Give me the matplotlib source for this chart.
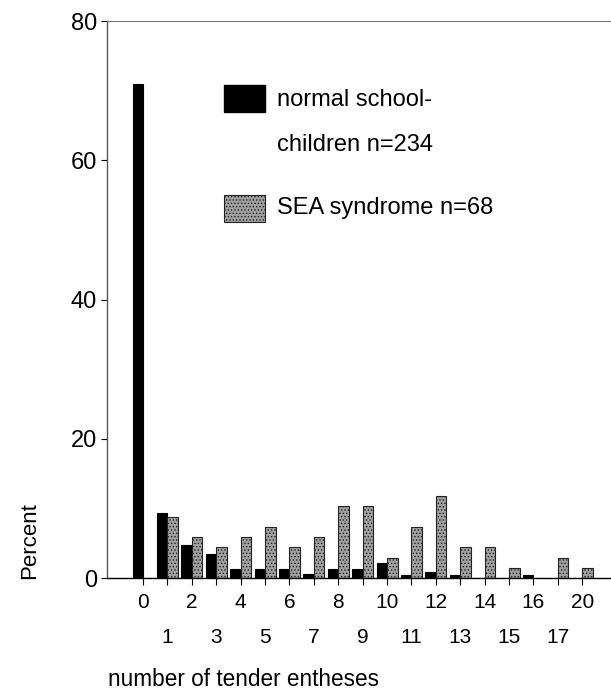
import numpy as np
import matplotlib.pyplot as plt
from matplotlib.patches import Rectangle

plt.rcParams['font.family'] = ['Liberation Sans', 'DejaVu Sans']
plt.rcParams['hatch.linewidth'] = 0.6

# number of tender entheses (categories)
categories = ['0', '1', '2', '3', '4', '5', '6', '7', '8', '9', '10',
              '11', '12', '13', '14', '15', '16', '17', '20']
# percent of normal schoolchildren (n=234)
normal_pct = [70.9, 9.4, 4.7, 3.4, 1.3, 1.3, 1.3, 0.6, 1.3, 1.3, 2.1,
              0.4, 0.9, 0.4, 0.0, 0.0, 0.4, 0.0, 0.0]
# percent of SEA syndrome (n=68)
sea_pct = [0.0, 8.8, 5.9, 4.4, 5.9, 7.4, 4.4, 5.9, 10.3, 10.3, 2.9,
           7.4, 11.8, 4.4, 4.4, 1.5, 0.0, 2.9, 1.5]

x = np.arange(len(categories))
w = 0.43

fig = plt.figure(figsize=(6.11, 6.91), dpi=100)
ax = fig.add_axes([0.175, 0.1635, 0.825, 0.806])

ax.bar(x - w / 2, normal_pct, width=w, color='black', edgecolor='black', linewidth=0.8)
ax.bar(x + w / 2, sea_pct, width=w, color='#a0a0a0', edgecolor='#222222',
       linewidth=0.8, hatch='.....')

ax.set_xlim(-1.48, 19.18)
ax.set_ylim(0, 80)
ax.set_yticks([0, 20, 40, 60, 80])
ax.tick_params(axis='y', labelsize=17, length=4, width=0.8, pad=3)

# even categories on first row, odd on second row
ax.set_xticks(x[::2])
ax.set_xticklabels(categories[::2])
ax.set_xticks(x[1::2], minor=True)
ax.set_xticklabels(categories[1::2], minor=True)
ax.tick_params(axis='x', which='major', labelsize=15, length=5, width=0.8, pad=6)
ax.tick_params(axis='x', which='minor', labelsize=15, length=5, width=0.8, pad=31)

ax.spines['right'].set_visible(False)
ax.spines['top'].set_color('#777777')
ax.spines['top'].set_linestyle((0, (4, 1)))
ax.spines['top'].set_linewidth(0.8)
ax.spines['left'].set_color('#555555')
ax.spines['left'].set_linewidth(1.0)
ax.spines['bottom'].set_linewidth(1.0)

# legend drawn in axes coordinates
ax.add_patch(Rectangle((0.232, 0.837), 0.081, 0.048, transform=ax.transAxes,
                       facecolor='black', edgecolor='black', clip_on=False))
ax.add_patch(Rectangle((0.232, 0.639), 0.081, 0.049, transform=ax.transAxes,
                       facecolor='#a0a0a0', edgecolor='#222222', hatch='.....',
                       linewidth=0.8, clip_on=False))
ax.text(0.337, 0.858, 'normal school-', transform=ax.transAxes,
        fontsize=17, va='center', ha='left')
ax.text(0.337, 0.777, 'children n=234', transform=ax.transAxes,
        fontsize=17, va='center', ha='left')
ax.text(0.337, 0.664, 'SEA syndrome n=68', transform=ax.transAxes,
        fontsize=17, va='center', ha='left')

fig.text(30 / 611, 1 - 541 / 691, 'Percent', rotation=90, fontsize=16,
         ha='center', va='center')
fig.text(243 / 611, 1 - 680 / 691, 'number of tender entheses', fontsize=16.3,
         ha='center', va='center')

fig.savefig('out.png', dpi=100)
